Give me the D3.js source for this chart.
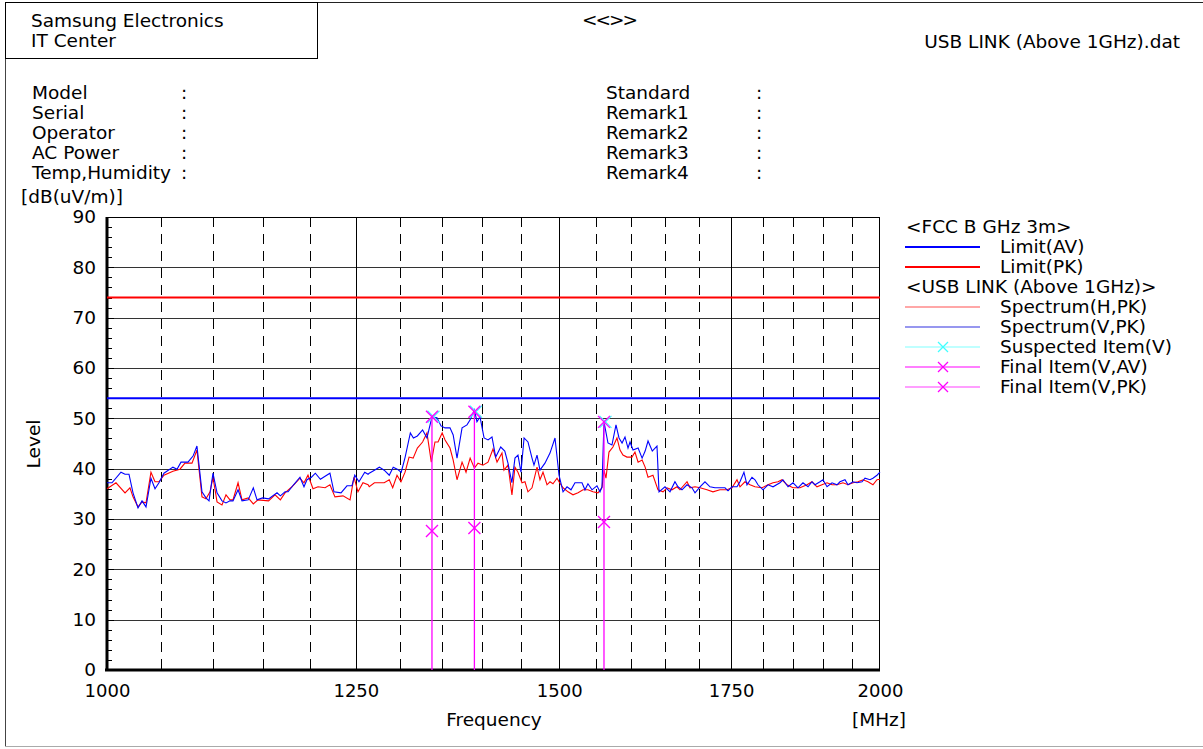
<!DOCTYPE html>
<html><head><meta charset="utf-8">
<script src="https://cdn.jsdelivr.net/npm/d3@7"></script>
<style>
body{margin:0;background:#fff}
svg{display:block}
text{font-family:"DejaVu Sans",sans-serif;font-size:18.5px;fill:#000}
</style>
</head><body>
<svg id="c" width="1203" height="749"></svg>
<script>
// ---------- data ----------
const yTicks = [0,10,20,30,40,50,60,70,80,90];
const xTickLabels = [1000,1250,1500,1750,2000];
const dashedGrid = [1050,1100,1150,1200,1300,1350,1400,1450,1550,1600,1650,1700,1800,1850,1900,1950];
const solidGrid = [1250,1500,1750];

const limitAV = 54;
const limitPK = 74;

// Spectrum (V,PK) – blue
const specVFreq = [1000,1004.5,1012.6,1016.3,1019.9,1023.6,1028.2,1031.9,1035.6,1040.2,1044.0,1047.7,1052.4,1060.9,1064.8,1068.6,1075.3,1080.2,1084.0,1088.9,1092.8,1095.8,1099.7,1103.7,1108.6,1112.6,1116.6,1119.6,1124.7,1128.7,1135.0,1140.2,1144.0,1149.7,1155.9,1164.7,1168.2,1173.1,1176.3,1182.1,1188.9,1193.2,1196.4,1201.2,1205.4,1210.9,1216.0,1221.3,1225.7,1233.5,1240.1,1245.6,1248.8,1253.5,1260.0,1263.8,1265.1,1271.0,1276.6,1282.2,1288.0,1292.6,1297.3,1301.9,1306.5,1312.6,1316.2,1320.9,1327.1,1332.3,1338.3,1344.3,1349.2,1354.1,1360.1,1364.0,1368.7,1374.9,1381.0,1384.9,1390.2,1393.4,1397.2,1402.3,1407.3,1412.3,1417.0,1423.4,1428.6,1432.7,1437.7,1441.7,1445.6,1449.5,1453.5,1458.6,1463.9,1466.5,1470.5,1474.4,1481.0,1487.7,1494.4,1499.8,1505.2,1510.6,1516.0,1521.4,1531.0,1535.1,1539.2,1544.8,1551.7,1555.9,1558.7,1561.5,1567.1,1572.7,1578.4,1582.7,1587.0,1591.2,1595.5,1598.4,1602.7,1610.0,1615.8,1620.2,1624.4,1630.6,1637.5,1640.5,1649.3,1656.7,1664.1,1668.6,1674.6,1682.2,1689.7,1694.3,1701.9,1709.5,1717.2,1724.9,1732.6,1740.5,1745.2,1751.4,1759.3,1764.0,1770.3,1775.1,1783.1,1787.9,1792.7,1800.8,1808.9,1817.1,1828.4,1833.3,1841.7,1849.9,1858.2,1866.5,1875.0,1881.7,1886.8,1895.2,1900.3,1907.2,1915.8,1924.3,1929.5,1938.2,1943.4,1952.2,1959.2,1968.0,1973.3,1982.1,1987.4,1994.6,2000];
const specVLevel = [37.2,37.2,39.3,38.9,38.9,35.2,32.2,33.6,32.4,38.1,36.0,37.2,39.1,40.3,39.9,41.3,41.3,42.5,44.5,35.4,34.2,33.6,39.1,35.2,33.6,33.2,33.6,33.6,35.8,33.6,33.8,36.2,33.8,34.2,34.0,35.2,34.6,35.4,35.4,36.8,38.3,36.4,37.8,38.3,39.1,37.9,38.5,39.1,35.4,35.2,36.6,36.6,38.7,37.4,39.3,38.9,39.1,39.7,40.3,39.7,38.7,40.3,39.9,39.3,42.3,47.1,46.1,46.5,47.7,46.1,50.3,50.1,48.5,48.1,48.1,46.7,42.1,48.1,48.7,49.7,51.7,49.3,50.3,46.1,45.7,46.3,42.3,44.3,43.5,41.1,37.2,42.1,42.7,39.3,46.1,45.3,42.1,40.7,42.7,39.7,41.1,43.1,46.1,38.7,35.4,36.4,35.8,37.2,37.2,35.8,37.0,35.8,36.6,35.4,36.4,49.3,45.1,44.7,48.7,46.1,45.1,46.3,44.1,45.3,43.7,44.1,42.1,43.5,45.5,43.5,44.5,35.4,36.4,35.4,37.4,36.4,35.8,36.8,36.2,35.2,36.4,37.4,36.4,36.2,36.2,36.2,35.6,36.4,36.4,37.4,39.3,36.8,38.3,37.8,36.8,35.8,36.8,36.4,37.2,37.8,36.4,37.2,36.2,37.2,36.4,37.4,36.8,37.4,37.8,36.4,37.2,36.8,37.4,37.8,36.8,37.4,37.2,37.4,38.1,37.8,38.1,38.7,39.3];

// Spectrum (H,PK) – red
const specHFreq = [1000,1008.1,1016.3,1020.8,1023.6,1028.2,1031.9,1035.6,1040.2,1044.0,1047.7,1052.4,1060.9,1067.6,1072.4,1079.2,1084.0,1088.9,1092.8,1096.8,1099.7,1103.7,1108.6,1112.6,1116.6,1119.6,1124.7,1128.7,1135.0,1140.2,1145.0,1155.9,1162.6,1168.2,1173.1,1180.4,1188.9,1193.2,1197.5,1202.9,1208.3,1216.0,1221.3,1226.8,1235.7,1243.5,1247.9,1252.4,1258.0,1263.8,1265.1,1271.0,1276.6,1282.2,1288.0,1292.0,1297.0,1301.6,1306.4,1311.1,1315.9,1320.9,1327.1,1332.3,1337.5,1341.9,1345.6,1350.6,1354.1,1360.1,1364.0,1368.7,1374.9,1379.8,1384.9,1390.2,1394.7,1400.9,1407.3,1413.6,1418.7,1425.0,1427.6,1432.7,1437.8,1441.7,1445.6,1450.8,1454.7,1458.6,1463.9,1470.5,1474.4,1478.4,1483.7,1487.7,1491.7,1497.1,1499.8,1505.2,1512.0,1518.7,1525.6,1532.4,1539.2,1546.1,1553.1,1558.7,1561.5,1564.3,1568.5,1574.1,1579.8,1584.1,1588.3,1594.0,1601.2,1605.5,1610.0,1615.8,1620.2,1624.4,1631.6,1639.0,1646.4,1652.3,1659.6,1667.1,1671.6,1682.2,1686.7,1694.3,1701.9,1712.6,1721.8,1732.6,1743.6,1751.4,1759.3,1764.0,1771.9,1779.9,1787.9,1799.2,1808.9,1817.1,1825.2,1831.7,1840.0,1849.9,1861.5,1873.3,1881.7,1890.1,1898.6,1907.2,1915.8,1924.3,1934.7,1943.4,1952.2,1960.9,1969.8,1978.6,1987.4,1994.6,2000];
const specHLevel = [36.0,37.2,35.2,36.2,34.4,32.4,33.4,33.2,39.3,37.4,37.4,38.7,39.5,39.9,41.1,41.1,43.7,34.4,34.0,35.4,38.3,33.4,32.8,34.8,33.8,33.8,37.2,33.8,34.2,33.0,33.8,33.6,34.8,33.8,35.2,36.4,38.1,37.2,38.7,36.0,36.4,36.2,36.8,34.4,34.6,33.8,38.3,35.4,37.2,36.8,36.4,37.2,37.2,37.2,37.8,36.2,38.7,37.4,39.3,42.3,42.1,44.1,45.3,47.1,41.3,45.3,45.3,47.1,45.7,44.1,41.7,37.8,41.3,39.3,42.1,40.1,41.1,40.7,41.3,43.9,41.3,43.1,39.7,40.7,34.8,40.3,39.3,37.2,37.4,35.4,36.2,40.3,37.8,39.3,36.8,37.4,37.0,38.1,37.4,36.2,35.4,34.8,35.2,35.8,35.8,35.4,35.2,36.2,39.7,38.1,43.3,44.3,46.1,43.7,42.7,42.3,42.3,43.3,41.3,41.7,40.3,38.3,38.7,35.8,35.4,36.2,35.8,36.4,35.8,37.4,36.2,36.4,36.2,35.8,35.4,35.8,35.8,36.2,37.8,36.4,37.4,36.8,36.4,36.2,36.8,37.2,37.4,37.8,36.8,36.2,36.2,36.8,37.4,36.4,36.8,37.2,36.8,36.8,37.2,36.8,37.2,37.4,37.8,37.4,36.8,37.8,37.9];

// Suspected / final items (V)
const itemFreq = [1338.3,1390.2,1561.5];
const suspectedLevel = [50.3,51.3,49.3];
const finalPK = [50.3,51.3,49.3];
const finalAV = [27.6,28.2,29.4];

const infoLeft = ["Model","Serial","Operator","AC Power","Temp,Humidity"];
const infoRight = ["Standard","Remark1","Remark2","Remark3","Remark4"];

// ---------- drawing ----------
const svg = d3.select("#c");
const x = d3.scaleLog().domain([1000,2000]).range([107,880]);
const y = d3.scaleLinear().domain([0,90]).range([670,217]);

// outer frame
svg.append("line").attr("x1",5).attr("x2",1203).attr("y1",2.5).attr("y2",2.5).attr("stroke","#222").attr("stroke-width",1);
svg.append("line").attr("x1",5.5).attr("x2",5.5).attr("y1",2).attr("y2",747).attr("stroke","#444").attr("stroke-width",1);
svg.append("line").attr("x1",5).attr("x2",1203).attr("y1",746.5).attr("y2",746.5).attr("stroke","#aaa").attr("stroke-width",1);
// header box
svg.append("rect").attr("x",5.5).attr("y",2.5).attr("width",312).attr("height",56).attr("fill","none").attr("stroke","#000");
svg.append("text").attr("x",31).attr("y",27).text("Samsung Electronics");
svg.append("text").attr("x",31).attr("y",47).text("IT Center");
svg.append("text").attr("x",582).attr("y",26).attr("letter-spacing","-2").text("<<>>");
svg.append("text").attr("x",1180).attr("y",48).attr("text-anchor","end").text("USB LINK (Above 1GHz).dat");

infoLeft.forEach((t,i)=>{
  svg.append("text").attr("x",32).attr("y",99+i*20).text(t);
  svg.append("text").attr("x",181).attr("y",99+i*20).text(":");
});
infoRight.forEach((t,i)=>{
  svg.append("text").attr("x",606).attr("y",99+i*20).text(t);
  svg.append("text").attr("x",756).attr("y",99+i*20).text(":");
});
svg.append("text").attr("x",21).attr("y",203).text("[dB(uV/m)]");

// grid
const g = svg.append("g");
g.selectAll(".hg").data(yTicks).join("line")
  .attr("x1",107).attr("x2",880).attr("y1",d=>Math.round(y(d))+0.5).attr("y2",d=>Math.round(y(d))+0.5)
  .attr("stroke","#333").attr("stroke-width",1);
g.selectAll(".dg").data(dashedGrid).join("line")
  .attr("x1",d=>Math.round(x(d))+0.5).attr("x2",d=>Math.round(x(d))+0.5).attr("y1",217).attr("y2",670)
  .attr("stroke","#000").attr("stroke-width",1).attr("stroke-dasharray","10,7");
g.selectAll(".sg").data(solidGrid).join("line")
  .attr("x1",d=>Math.round(x(d))+0.5).attr("x2",d=>Math.round(x(d))+0.5).attr("y1",217).attr("y2",670)
  .attr("stroke","#000").attr("stroke-width",1);

// y minor ticks
const minor = d3.range(0,91,2);
g.selectAll(".mt").data(minor).join("line")
  .attr("x1",107).attr("x2",d=>d%10===0?114:112).attr("y1",d=>Math.round(y(d))+0.5).attr("y2",d=>Math.round(y(d))+0.5)
  .attr("stroke","#000").attr("stroke-width",1);

// plot frame
svg.append("rect").attr("x",107.5).attr("y",217.5).attr("width",772).attr("height",452).attr("fill","none").attr("stroke","#000").attr("stroke-width",1);
svg.append("line").attr("x1",107).attr("x2",107).attr("y1",217).attr("y2",671).attr("stroke","#000").attr("stroke-width",3);
svg.append("line").attr("x1",105).attr("x2",880).attr("y1",670).attr("y2",670).attr("stroke","#000").attr("stroke-width",3);

// axes labels
const ya = d3.axisLeft(y).tickValues(yTicks).tickSize(0).tickPadding(11);
svg.append("g").attr("transform","translate(107,0)").call(ya)
  .call(s=>s.select(".domain").remove())
  .selectAll("text").style("font-size","18.5px").style("font-family","DejaVu Sans").attr("fill","#000");
const xa = d3.axisBottom(x).tickValues(xTickLabels).tickSize(0).tickPadding(14).tickFormat(d3.format("d"));
svg.append("g").attr("transform","translate(0,670)").call(xa)
  .call(s=>s.select(".domain").remove())
  .selectAll("text").style("font-size","18px").style("font-family","DejaVu Sans").attr("fill","#000");

svg.append("text").attr("x",494).attr("y",726).attr("text-anchor","middle").text("Frequency");
svg.append("text").attr("x",852).attr("y",726).text("[MHz]");
svg.append("text").attr("transform","translate(40,444) rotate(-90)").attr("text-anchor","middle").text("Level");

// limits
svg.append("line").attr("x1",107).attr("x2",880).attr("y1",y(limitAV)).attr("y2",y(limitAV)).attr("stroke","#0000ff").attr("stroke-width",2);
svg.append("line").attr("x1",107).attr("x2",880).attr("y1",y(limitPK)).attr("y2",y(limitPK)).attr("stroke","#ff0000").attr("stroke-width",2);

// spectra
const line = d3.line().x(d=>x(d[0])).y(d=>y(d[1]));
svg.append("path").datum(d3.zip(specHFreq,specHLevel)).attr("d",line)
  .attr("fill","none").attr("stroke","#ff0000").attr("stroke-width",1.1);
svg.append("path").datum(d3.zip(specVFreq,specVLevel)).attr("d",line)
  .attr("fill","none").attr("stroke","#0000ff").attr("stroke-width",1.1);

// cross marker
function cross(sel, cx, cy, color, r){
  sel.append("line").attr("x1",cx-r).attr("x2",cx+r).attr("y1",cy-r).attr("y2",cy+r).attr("stroke",color).attr("stroke-width",1.3);
  sel.append("line").attr("x1",cx-r).attr("x2",cx+r).attr("y1",cy+r).attr("y2",cy-r).attr("stroke",color).attr("stroke-width",1.3);
}
const items = svg.append("g");
itemFreq.forEach((f,i)=>{
  cross(items, x(f)+1.5, y(suspectedLevel[i]), "#40ffff", 6);
});
itemFreq.forEach((f,i)=>{
  items.append("line").attr("x1",x(f)).attr("x2",x(f)).attr("y1",y(0)).attr("y2",y(finalPK[i]))
    .attr("stroke","#ff00ff").attr("stroke-width",1.3);
  cross(items, x(f), y(finalPK[i]), "#ff00ff", 6);
  cross(items, x(f), y(finalAV[i]), "#ff00ff", 6);
});

// legend
const lg = svg.append("g");
const lx1 = 905, lx2 = 980, tx = 1000;
lg.append("text").attr("x",906).attr("y",233).text("<FCC B GHz 3m>");
const legRows = [
  {label:"Limit(AV)", color:"#0000ff", w:2, y:247},
  {label:"Limit(PK)", color:"#ff0000", w:2, y:267},
  {label:"Spectrum(H,PK)", color:"#ff5050", w:1.2, y:307},
  {label:"Spectrum(V,PK)", color:"#3030e0", w:1.2, y:327},
  {label:"Suspected Item(V)", color:"#80ffff", w:1.2, y:347, mark:"#40ffff"},
  {label:"Final Item(V,AV)", color:"#ff00ff", w:1.2, y:367, mark:"#ff00ff"},
  {label:"Final Item(V,PK)", color:"#ff40ff", w:1.2, y:387, mark:"#ff00ff"}
];
lg.append("text").attr("x",906).attr("y",293).text("<USB LINK (Above 1GHz)>");
legRows.forEach(r=>{
  lg.append("line").attr("x1",lx1).attr("x2",lx2).attr("y1",r.y).attr("y2",r.y).attr("stroke",r.color).attr("stroke-width",r.w);
  if(r.mark) cross(lg, 943, r.y, r.mark, 5);
  lg.append("text").attr("x",tx).attr("y",r.y+6).text(r.label);
});
</script>
</body></html>
